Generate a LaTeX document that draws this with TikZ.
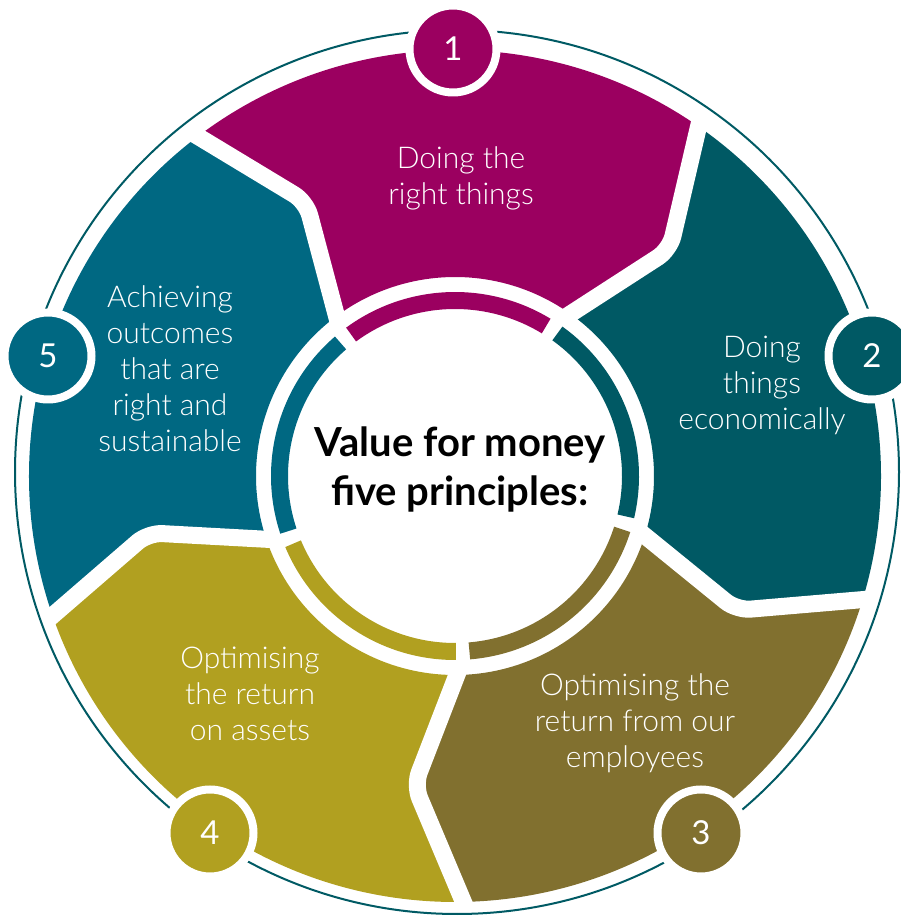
\documentclass[tikz,border=0pt]{standalone}
\usepackage{fontspec}
\newfontfamily\latofont{Lato}
\IfFontExistsTF{Lato Light}{\newfontfamily\lightfont{Lato Light}}{\newfontfamily\lightfont{Lato}}
\definecolor{segA}{RGB}{155,0,96}
\definecolor{segB}{RGB}{0,89,100}
\definecolor{segC}{RGB}{129,112,47}
\definecolor{segD}{RGB}{177,160,32}
\definecolor{segE}{RGB}{0,104,130}
\definecolor{rim}{RGB}{0,90,100}
\tikzset{
  numdisk/.style={circle, draw=white, line width=8pt, minimum size=87pt, inner sep=0pt,
    text=white, font=\latofont\fontsize{33}{33}\selectfont},
  seglabel/.style={align=center, text=white, font=\lightfont\fontsize{30}{36}\selectfont},
  gapline/.style={white, line width=17pt, rounded corners=14pt, line join=round},
  ringarc/.style={line width=17pt}
}
\begin{document}
\begin{tikzpicture}[x=1pt,y=1pt]
\useasboundingbox (0,0) rectangle (901,916);
% thin outer rim
\draw[rim, line width=2pt] (457,444) circle[radius=442];
\begin{scope}[shift={(455,440)}]
  \def\Ro{426}\def\Rk{312}\def\Ri{199}
  % coloured segments: ccw side / cw side / colour
  \foreach \A/\B/\col in {127.5/55.5/segA, 55.5/-16.5/segB, -16.5/-88.5/segC,
                          -88.5/-160.5/segD, 199.5/127.5/segE}{
    \fill[\col] (\A:\Ri) -- (\A-9:\Rk) -- (\A:\Ro)
      arc[start angle=\A, end angle=\B, radius=\Ro]
      -- (\B-9:\Rk) -- (\B:\Ri)
      arc[start angle=\B, end angle=\A, radius=\Ri] -- cycle;
  }
  % white separating bands
  \foreach \b in {127.5, 55.5, -16.5, -88.5, -160.5}{
    \draw[gapline] (\b:191) -- (\b-9:\Rk) -- (\b:433);
  }
  % inner ring arcs
  \foreach \A/\B/\col in {126.3/58.7/segA, 54.3/-13.3/segB, -17.7/-85.3/segC,
                          -89.7/-157.3/segD, 198.3/130.7/segE}{
    \draw[ringarc, \col] (\A:175.5) arc[start angle=\A, end angle=\B, radius=175.5];
  }
\end{scope}
% numbered discs
\node[numdisk, fill=segA] (n1) at (453,867) {1};
\node[numdisk, fill=segB] (n2) at (872,560) {2};
\node[numdisk, fill=segC] (n3) at (701,83) {3};
\node[numdisk, fill=segD] (n4) at (210,83) {4};
\node[numdisk, fill=segE] (n5) at (48,560) {5};
% segment labels
\node[seglabel] (l1) at (461,737.5) {Doing the\\right things};
\node[seglabel] (l2) at (762,531) {Doing\\things\\economically};
\node[seglabel] (l3) at (635,192.5) {Optimising the\\return from our\\employees};
\node[seglabel] (l4) at (250,222) {Optimising\\the return\\on assets};
\node[seglabel] (l5) at (170,547) {Achieving\\outcomes\\that are\\right and\\sustainable};
% title
\node[align=center, font=\latofont\bfseries\fontsize{40}{49}\selectfont] (title) at (460,446.5)
  {Value for money\\five principles:};
\end{tikzpicture}
\end{document}
